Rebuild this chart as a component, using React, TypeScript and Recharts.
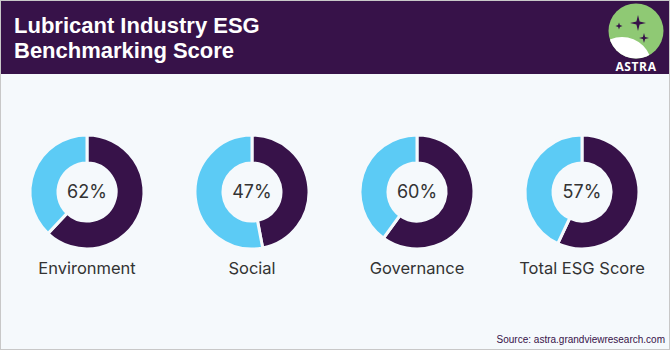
import * as React from "react";
import { PieChart, Pie, Cell } from "recharts";

const categories = ["Environment", "Social", "Governance", "Total ESG Score"];
const scores = [62, 47, 60, 57];
const centersX = [87, 252, 417, 582];

const DARK = "#371249";
const LIGHT = "#5ccbf5";
const BG = "#f5f9fc";

function Star({ x, y, a, w }: { x: number; y: number; a: number; w: number }) {
  return (
    <path
      d={`M${x} ${y - a} L${x + w} ${y - w} L${x + a} ${y} L${x + w} ${y + w} L${x} ${y + a} L${x - w} ${y + w} L${x - a} ${y} L${x - w} ${y - w} Z`}
      fill={DARK}
    />
  );
}

function Logo() {
  return (
    <svg width="60" height="74" style={{ position: "absolute", left: 605, top: 0 }}>
      <defs>
        <clipPath id="lg">
          <circle cx="30" cy="30" r="27.5" />
        </clipPath>
      </defs>
      <circle cx="30" cy="30" r="27.5" fill="#8fc974" />
      <g clipPath="url(#lg)">
        <circle cx="16" cy="66" r="30" fill="#ffffff" />
      </g>
      <Star x={32} y={22} a={8} w={1.6} />
      <Star x={13} y={25} a={3.5} w={0.9} />
      <Star x={38} y={37} a={5} w={1.1} />
      <text x="30" y="70" textAnchor="middle" fill="#fff" fontSize="12" fontWeight="700" fontFamily="'Open Sans', sans-serif" letterSpacing="0.6">
        ASTRA
      </text>
    </svg>
  );
}

export default function App() {
  return (
    <div
      style={{
        position: "relative",
        width: 668,
        height: 348,
        border: "1px solid #c8c8c8",
        background: BG,
        overflow: "hidden",
        fontFamily: "Inter, 'Noto Sans', sans-serif",
      }}
    >
      <style>{`body{margin:0}`}</style>
      <div style={{ position: "absolute", left: 0, top: 0, width: 668, height: 73, background: DARK }} />
      <div
        style={{
          position: "absolute",
          left: 13,
          top: 12,
          color: "#fff",
          fontFamily: "'Liberation Sans Narrow', 'Arial Narrow', 'Liberation Sans', sans-serif",
          fontWeight: 700,
          fontSize: 22,
          lineHeight: "25px",
        }}
      >
        Lubricant Industry ESG
        <br />
        Benchmarking Score
      </div>
      <Logo />
      <div style={{ position: "absolute", left: 0, top: 119 }}>
        <PieChart width={668} height={145} margin={{ top: 0, right: 0, bottom: 0, left: 0 }}>
          {scores.map((s, i) => (
            <Pie
              key={categories[i]}
              data={[
                { name: "score", value: s },
                { name: "rest", value: 100 - s },
              ]}
              dataKey="value"
              cx={centersX[i] - 1}
              cy={72}
              innerRadius={29}
              outerRadius={57}
              startAngle={90}
              endAngle={-270}
              stroke={BG}
              strokeWidth={3}
              isAnimationActive={false}
            >
              <Cell fill={DARK} />
              <Cell fill={LIGHT} />
            </Pie>
          ))}
        </PieChart>
      </div>
      {scores.map((s, i) => (
        <React.Fragment key={categories[i]}>
          <div
            style={{
              position: "absolute",
              left: centersX[i] - 41,
              width: 80,
              top: 180,
              textAlign: "center",
              fontSize: 18,
              color: "#333",
            }}
          >
            {s}%
          </div>
          <div
            style={{
              position: "absolute",
              left: centersX[i] - 81,
              width: 160,
              top: 257,
              textAlign: "center",
              fontSize: 16.5,
              color: "#333",
            }}
          >
            {categories[i]}
          </div>
        </React.Fragment>
      ))}
      <div
        style={{
          position: "absolute",
          right: 4,
          top: 333,
          fontSize: 10,
          color: DARK,
          fontFamily: "'Liberation Sans Narrow', 'Arial Narrow', 'Liberation Sans', sans-serif",
        }}
      >
        Source: astra.grandviewresearch.com
      </div>
    </div>
  );
}
